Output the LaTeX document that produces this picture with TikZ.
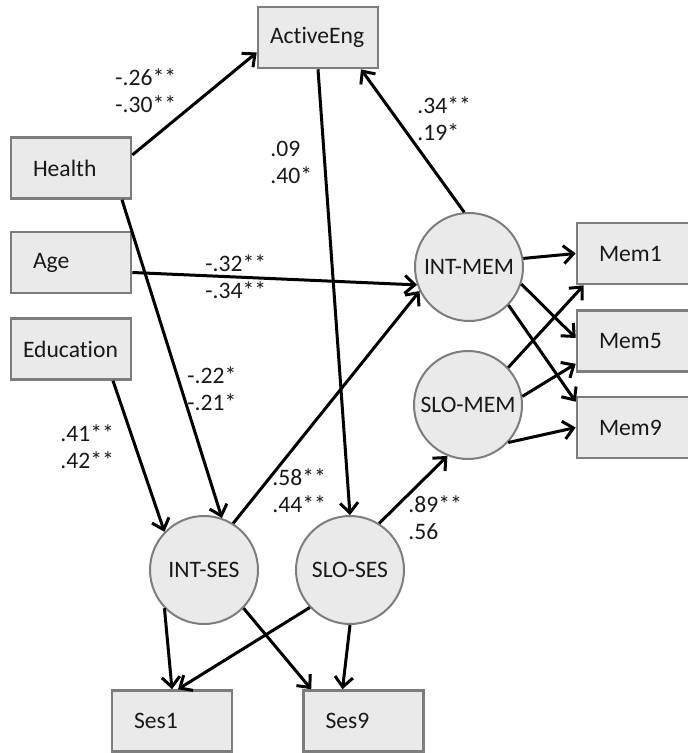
\documentclass[tikz,border=0pt]{standalone}
\usepackage{fontspec}
\setmainfont{Carlito}[Ligatures=NoCommon]
\usetikzlibrary{arrows.meta,calc}
\definecolor{boxfill}{RGB}{234,234,234}
\definecolor{boxline}{RGB}{125,125,125}
\definecolor{ink}{RGB}{25,25,25}
\begin{document}
\begin{tikzpicture}[x=0.5pt,y=-0.5pt,
  every node/.style={font=\fontsize{11.8}{13.5}\selectfont, text=ink},
  obsbox/.style={rectangle, draw=boxline, line width=1.3pt, fill=boxfill,
    minimum width=60pt, minimum height=30.5pt, inner ysep=0pt,
    inner xsep=11pt, text width=38pt, align=left},
  widebox/.style={obsbox, inner xsep=6pt, text width=48pt},
  latent/.style={circle, draw=boxline, line width=1pt, fill=boxfill,
    minimum size=54pt, inner sep=0pt},
  patharrow/.style={-{Straight Barb[length=5pt,width=9pt]}, line width=1.5pt, black},
  coef/.style={anchor=west, align=left, inner sep=0pt}]

\fill[white] (0,0) rectangle (688,753);
\useasboundingbox (0,0) rectangle (688,753);

% observed variables
\node[widebox] (activeeng) at (318,37.5) {ActiveEng};
\node[obsbox]  (health)    at (71,168)   {Health};
\node[obsbox]  (age)       at (71,262.5) {Age};
\node[widebox] (education) at (71,349)   {Education};
\node[obsbox]  (mem1)      at (637,253.5) {Mem1};
\node[obsbox]  (mem5)      at (637,341)   {Mem5};
\node[obsbox]  (mem9)      at (637,427.5) {Mem9};
\node[obsbox]  (ses1)      at (172,721)   {Ses1};
\node[obsbox]  (ses9)      at (363.5,721) {Ses9};

% growth factors
\node[latent] (intmem) at (469,267) {INT-MEM};
\node[latent] (slomem) at (468,405) {SLO-MEM};
\node[latent] (intses) at (204,570) {INT-SES};
\node[latent] (sloses) at (350,570) {SLO-SES};

% structural paths
\draw[patharrow] ($(health.east)+(0,-13)$) -- ($(activeeng.west)+(0,15)$);
\draw[patharrow] (activeeng.south) -- (sloses.north);
\draw[patharrow] (intmem.95) -- ($(activeeng.south)+(43,0)$);
\draw[patharrow] ($(age.east)+(0,10)$) -- (intmem.199);
\draw[patharrow] ($(health.south)+(51,0)$) -- (intses.71);
\draw[patharrow] ($(education.south)+(42,0)$) -- (intses.136);
\draw[patharrow] (intses.58) -- (intmem.206);
\draw[patharrow] (sloses.58) -- (slomem.248);

% measurement paths
\draw[patharrow] (intmem.9) -- (mem1.west);
\draw[patharrow] (intmem.-18) -- ($(mem5.west)+(0,-3)$);
\draw[patharrow] (intmem.-44) -- ($(mem9.north west)+(0,6)$);
\draw[patharrow] (slomem.43) -- ($(mem1.south west)+(8,0)$);
\draw[patharrow] (slomem.9) -- ($(mem5.south west)+(0,-9)$);
\draw[patharrow] (slomem.-43) -- (mem9.west);
\draw[patharrow] (intses.224) -- (ses1.north);
\draw[patharrow] (intses.-44) -- ($(ses9.north west)+(9,0)$);
\draw[patharrow] (sloses.223) -- ($(ses1.north)+(6,0)$);
\draw[patharrow] (sloses.south) -- ($(ses9.north)+(-21,0)$);

% path coefficients
\node[coef] (c1) at (115,91)    {-.26**\\-.30**};
\node[coef] (c2) at (270,162.5) {.09\\.40*};
\node[coef] (c3) at (417,119)   {.34**\\.19*};
\node[coef] (c4) at (205,276.5) {-.32**\\-.34**};
\node[coef] (c5) at (187,388.5) {-.22*\\-.21*};
\node[coef] (c6) at (60,446.5)  {.41**\\.42**};
\node[coef] (c7) at (272,491)   {.58**\\.44**};
\node[coef] (c8) at (408,517.5) {.89**\\.56};
\end{tikzpicture}
\end{document}
